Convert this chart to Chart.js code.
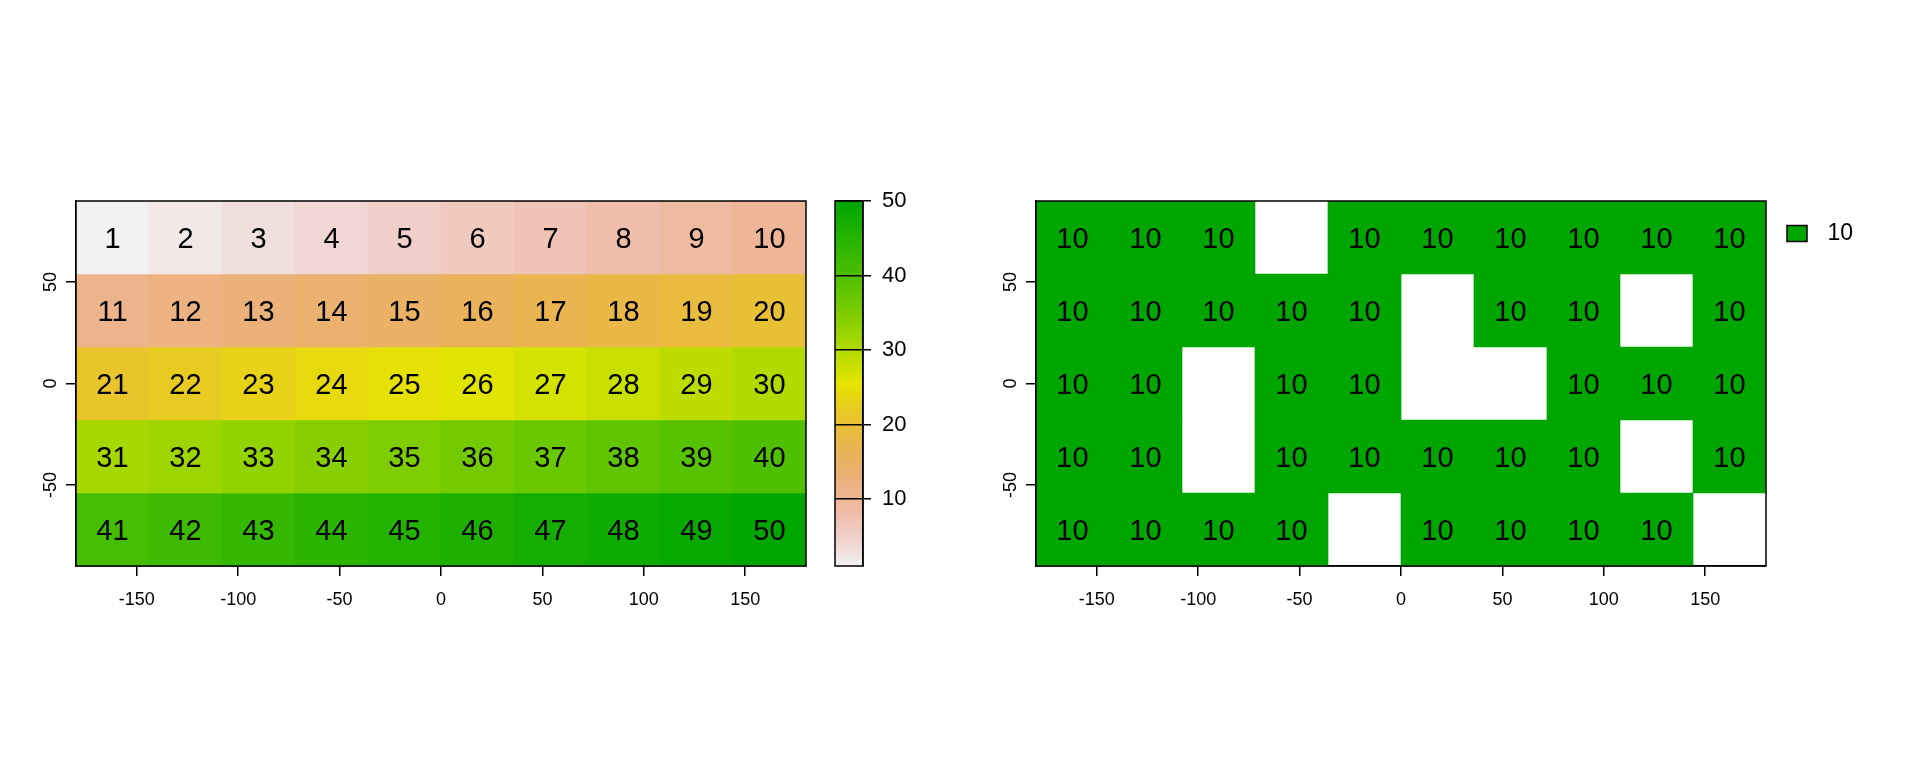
<!DOCTYPE html>
<html>
<head>
<meta charset="utf-8">
<script src="https://cdn.jsdelivr.net/npm/chart.js@4.4.1/dist/chart.umd.min.js"></script>
<style>
html,body{margin:0;padding:0;background:#fff;width:1920px;height:768px;overflow:hidden}
canvas{position:absolute;left:0;top:0}
</style>
</head>
<body>
<canvas id="left" width="1920" height="768"></canvas>
<canvas id="cbar" width="1920" height="768"></canvas>
<canvas id="right" width="1920" height="768"></canvas>
<script>
// ---- data ----
const xEdges = [-180, -144, -108, -72, -36, 0, 36, 72, 108, 144, 180];
const yEdges = [90, 54, 18, -18, -54, -90];
const leftValues = [
  [1, 2, 3, 4, 5, 6, 7, 8, 9, 10],
  [11, 12, 13, 14, 15, 16, 17, 18, 19, 20],
  [21, 22, 23, 24, 25, 26, 27, 28, 29, 30],
  [31, 32, 33, 34, 35, 36, 37, 38, 39, 40],
  [41, 42, 43, 44, 45, 46, 47, 48, 49, 50]
];
const rightValues = [
  [10, 10, 10, null, 10, 10, 10, 10, 10, 10],
  [10, 10, 10, 10, 10, null, 10, 10, null, 10],
  [10, 10, null, 10, 10, null, null, 10, 10, 10],
  [10, 10, null, 10, 10, 10, 10, 10, null, 10],
  [10, 10, 10, 10, null, 10, 10, 10, 10, null]
];
const xTicks = [-150, -100, -50, 0, 50, 100, 150];
const yTicks = [-50, 0, 50];
const cbTicks = [10, 20, 30, 40, 50];
const legendLabels = ['10'];

// ---- style ----
const FONT = '"Liberation Sans", Arial, Helvetica, sans-serif';
const SINGLE_COLOR = '#00A600';
Chart.defaults.color = '#000';
Chart.defaults.font.family = FONT;

function hsvColor(h, s, v) {
  const i = Math.floor(h * 6), f = h * 6 - i;
  const p = v * (1 - s), q = v * (1 - f * s), t = v * (1 - (1 - f) * s);
  let r, g, b;
  switch (((i % 6) + 6) % 6) {
    case 0: r = v; g = t; b = p; break;
    case 1: r = q; g = v; b = p; break;
    case 2: r = p; g = v; b = t; break;
    case 3: r = p; g = q; b = v; break;
    case 4: r = t; g = p; b = v; break;
    default: r = v; g = p; b = q;
  }
  return 'rgb(' + Math.round(r * 255) + ',' + Math.round(g * 255) + ',' + Math.round(b * 255) + ')';
}
// reversed terrain palette: u=0 (low) light grey, u=1 (high) green
function terrainColor(u) {
  const p = 1 - Math.max(0, Math.min(1, u));
  if (p <= 0.5) {
    const k = p / 0.5;
    return hsvColor(4 / 12 - (2 / 12) * k, 1, 0.65 + 0.25 * k);
  }
  const k = (p - 0.5) / 0.5;
  return hsvColor((2 / 12) * (1 - k), 1 - k, 0.9 + 0.05 * k);
}

const allLeft = leftValues.flat();
const vMin = Math.min(...allLeft), vMax = Math.max(...allLeft);
const colorFor = v => terrainColor((v - vMin) / (vMax - vMin));

function rowDatasets(values, colorFn) {
  return values.map((row, i) => ({
    label: 'row' + (i + 1),
    data: row.map((v, j) => v == null ? null : {
      x: (xEdges[j] + xEdges[j + 1]) / 2,
      y: [yEdges[i + 1], yEdges[i]],
      v: v
    }).filter(d => d !== null),
    backgroundColor: c => (c.raw ? colorFn(c.raw.v) : 'rgba(0,0,0,0)'),
    borderWidth: 0,
    grouped: false,
    barPercentage: 1,
    categoryPercentage: 1
  }));
}

// ---- plugins ----
const cellLabels = {
  id: 'cellLabels',
  afterDatasetsDraw(chart) {
    if (!chart.options.plugins.cellLabels || !chart.options.plugins.cellLabels.enabled) return;
    const ctx = chart.ctx;
    ctx.save();
    ctx.font = '29px ' + FONT;
    ctx.fillStyle = '#000';
    ctx.textAlign = 'center';
    ctx.textBaseline = 'middle';
    chart.data.datasets.forEach((ds, i) => {
      chart.getDatasetMeta(i).data.forEach((el, j) => {
        const p = el.getProps(['x', 'y', 'base'], true);
        ctx.fillText(String(ds.data[j].v), p.x, (p.y + p.base) / 2 + 2);
      });
    });
    ctx.restore();
  }
};
const frame = {
  id: 'frame',
  afterDatasetsDraw(chart) {
    const a = chart.chartArea, c = chart.ctx;
    c.save();
    c.strokeStyle = '#000';
    c.lineWidth = 1.5;
    c.strokeRect(a.left, a.top, a.right - a.left, a.bottom - a.top);
    c.restore();
  }
};

function heatScales() {
  return {
    x: {
      type: 'linear', min: -180, max: 180, offset: false,
      afterBuildTicks: s => { s.ticks = xTicks.map(v => ({ value: v })); },
      afterFit: s => { s.height = 60; },
      grid: { display: true, offset: false, drawOnChartArea: false, drawTicks: true, tickLength: 10, color: '#000', lineWidth: 1.5 },
      border: { display: true, color: '#000', width: 1.5 },
      ticks: { color: '#000', font: { family: FONT, size: 18 }, padding: 13, minRotation: 0, maxRotation: 0, autoSkip: false, callback: v => String(v) }
    },
    y: {
      type: 'linear', min: -90, max: 90, beginAtZero: false,
      afterBuildTicks: s => { s.ticks = yTicks.map(v => ({ value: v })); },
      afterFit: s => { s.width = 60; },
      grid: { display: true, drawOnChartArea: false, drawTicks: true, tickLength: 10, color: '#000', lineWidth: 1.5 },
      border: { display: true, color: '#000', width: 1.5 },
      ticks: { color: '#000', font: { family: FONT, size: 18 }, padding: 2, minRotation: 90, maxRotation: 90, crossAlign: 'center', autoSkip: false, callback: v => String(v) }
    }
  };
}

// ---- left heatmap ----
new Chart(document.getElementById('left'), {
  type: 'bar',
  data: { datasets: rowDatasets(leftValues, colorFor) },
  options: {
    responsive: false, animation: false, devicePixelRatio: 1,
    layout: { padding: { left: 16, right: 1114, top: 201, bottom: 142 } },
    plugins: { legend: { display: false }, tooltip: { enabled: false }, cellLabels: { enabled: true } },
    scales: heatScales()
  },
  plugins: [cellLabels, frame]
});

// ---- colour bar ----
new Chart(document.getElementById('cbar'), {
  type: 'bar',
  data: {
    labels: [''],
    datasets: [{
      data: [[vMin, vMax]],
      borderWidth: 0,
      barPercentage: 1,
      categoryPercentage: 1,
      backgroundColor: c => {
        const ch = c.chart;
        if (!ch.chartArea) return 'rgba(0,0,0,0)';
        const ys = ch.scales.y;
        const g = ch.ctx.createLinearGradient(0, ys.getPixelForValue(vMin), 0, ys.getPixelForValue(vMax));
        const n = 40;
        for (let k = 0; k <= n; k++) g.addColorStop(k / n, terrainColor(k / n));
        return g;
      }
    }]
  },
  options: {
    responsive: false, animation: false, devicePixelRatio: 1,
    layout: { padding: { left: 835, right: 997, top: 201, bottom: 202 } },
    plugins: { legend: { display: false }, tooltip: { enabled: false } },
    scales: {
      x: { type: 'category', display: false, offset: true },
      y: {
        type: 'linear', position: 'right', min: vMin, max: vMax,
        afterBuildTicks: s => { s.ticks = cbTicks.map(v => ({ value: v })); },
        afterFit: s => { s.width = 60; },
        grid: { display: true, z: 1, drawOnChartArea: true, drawTicks: true, tickLength: 8, color: '#000', lineWidth: 1.5 },
        border: { display: true, z: 1, color: '#000', width: 1.5 },
        ticks: { z: 1, color: '#000', font: { family: FONT, size: 22 }, padding: 11, autoSkip: false, callback: v => String(v) }
      }
    }
  },
  plugins: [frame]
});

// ---- right heatmap ----
new Chart(document.getElementById('right'), {
  type: 'bar',
  data: { datasets: rowDatasets(rightValues, () => SINGLE_COLOR) },
  options: {
    responsive: false, animation: false, devicePixelRatio: 1,
    layout: { padding: { left: 976, right: 67, top: 201, bottom: 142 } },
    plugins: {
      tooltip: { enabled: false },
      cellLabels: { enabled: true },
      legend: {
        display: true, position: 'right', align: 'start', maxWidth: 87,
        onClick: null,
        labels: {
          boxWidth: 20, boxHeight: 16, padding: 21, textAlign: 'right',
          color: '#000', font: { family: FONT, size: 23 },
          generateLabels: () => legendLabels.map(t => ({
            text: t, fillStyle: SINGLE_COLOR, strokeStyle: '#000', lineWidth: 1.5, hidden: false, datasetIndex: 0
          }))
        }
      }
    },
    scales: heatScales()
  },
  plugins: [cellLabels, frame]
});
</script>
</body>
</html>
